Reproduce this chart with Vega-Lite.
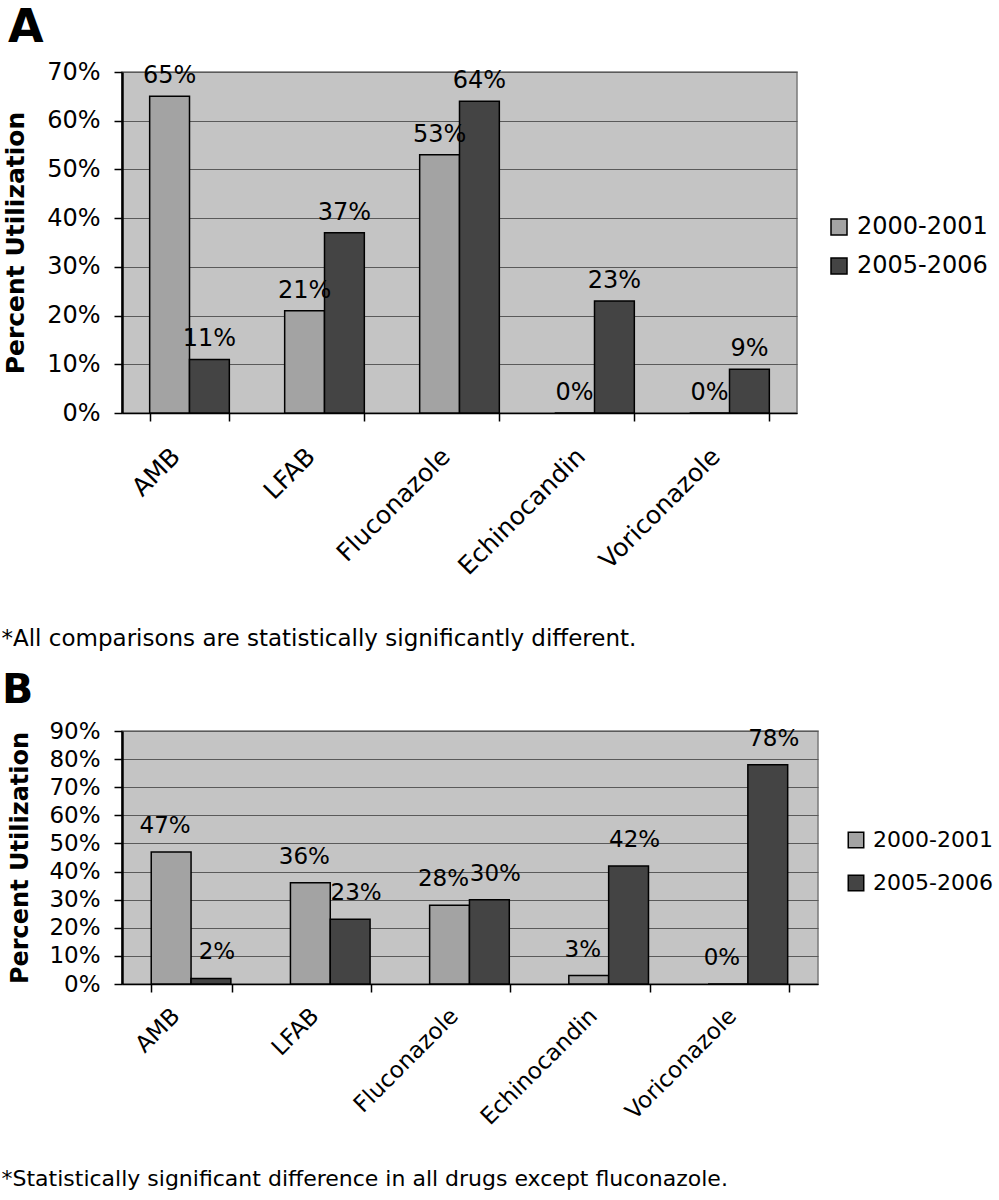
{
  "$schema": "https://vega.github.io/schema/vega-lite/v6.json",
  "background": "white",
  "padding": {"top": 4, "left": 0, "right": 0, "bottom": 0},
  "spacing": 18,
  "align": "none",
  "resolve": {"scale": {"color": "independent"}, "legend": {"color": "independent"}},
  "config": {
    "font": "DejaVu Sans",
    "view": {"fill": "#c4c4c4", "stroke": "#7a7a7a", "strokeWidth": 1.5}
  },
  "vconcat": [
    {
      "title": {"text": "A", "anchor": "start", "fontSize": 46, "fontWeight": "bold", "color": "black", "dx": 7, "offset": 8},
      "width": 675,
      "height": 341,
      "data": {"values": [
        {"drug": "AMB", "period": "2000-2001", "value": 0.65},
        {"drug": "AMB", "period": "2005-2006", "value": 0.11},
        {"drug": "LFAB", "period": "2000-2001", "value": 0.21},
        {"drug": "LFAB", "period": "2005-2006", "value": 0.37},
        {"drug": "Fluconazole", "period": "2000-2001", "value": 0.53},
        {"drug": "Fluconazole", "period": "2005-2006", "value": 0.64},
        {"drug": "Echinocandin", "period": "2000-2001", "value": 0.0},
        {"drug": "Echinocandin", "period": "2005-2006", "value": 0.23},
        {"drug": "Voriconazole", "period": "2000-2001", "value": 0.0},
        {"drug": "Voriconazole", "period": "2005-2006", "value": 0.09}
      ]},
      "encoding": {
        "x": {
          "field": "drug", "type": "nominal", "sort": null,
          "scale": {"paddingInner": 0.41, "paddingOuter": 0.205},
          "axis": {
            "tickBand": "extent", "tickSize": 8, "tickColor": "black", "tickWidth": 1.5,
            "domainColor": "black", "domainWidth": 1.5,
            "labelAngle": -45, "labelAlign": "right", "labelBaseline": "middle",
            "labelFontSize": 25, "labelColor": "black", "labelPadding": 31, "labelOffset": -14,
            "title": "*All comparisons are statistically significantly different.",
            "titleFontSize": 23, "titleFontWeight": "normal", "titleColor": "black",
            "titleAnchor": "start", "titleAlign": "left", "titleBaseline": "alphabetic",
            "titleX": -121, "titleY": 232
          }
        },
        "xOffset": {"field": "period", "type": "nominal"},
        "y": {
          "field": "value", "type": "quantitative",
          "scale": {"domain": [0, 0.7], "nice": false},
          "axis": {
            "values": [0, 0.1, 0.2, 0.3, 0.4, 0.5, 0.6, 0.7],
            "format": ".0%", "grid": true, "gridColor": "#5a5a5a", "gridWidth": 1,
            "tickSize": 8, "tickColor": "black", "tickWidth": 1.5,
            "domainColor": "black", "domainWidth": 2.5,
            "labelFontSize": 24, "labelColor": "black", "labelPadding": 14,
            "title": "Percent Utilization", "titleFontSize": 25, "titleFontWeight": "bold",
            "titleColor": "black", "titlePadding": 18
          }
        }
      },
      "layer": [
        {
          "mark": {"type": "bar", "stroke": "black", "strokeWidth": 1.5},
          "encoding": {
            "color": {
              "field": "period", "type": "nominal",
              "scale": {"domain": ["2000-2001", "2005-2006"], "range": ["#a3a3a3", "#444444"]},
              "legend": {
                "title": null, "orient": "none", "legendX": 705, "legendY": 143,
                "symbolType": "square", "symbolSize": 256, "symbolStrokeColor": "black",
                "symbolStrokeWidth": 1.5, "labelFontSize": 24, "labelColor": "black",
                "labelOffset": 6, "rowPadding": 15
              }
            }
          }
        },
        {
          "mark": {"type": "text", "baseline": "alphabetic", "dy": -13, "fontSize": 24, "color": "black"},
          "encoding": {"text": {"field": "value", "type": "quantitative", "format": ".0%"}}
        }
      ]
    },
    {
      "title": {"text": "B", "anchor": "start", "fontSize": 41, "fontWeight": "bold", "color": "black", "dx": 1, "offset": 8},
      "width": 696,
      "height": 253,
      "data": {"values": [
        {"drug": "AMB", "period": "2000-2001", "value": 0.47},
        {"drug": "AMB", "period": "2005-2006", "value": 0.02},
        {"drug": "LFAB", "period": "2000-2001", "value": 0.36},
        {"drug": "LFAB", "period": "2005-2006", "value": 0.23},
        {"drug": "Fluconazole", "period": "2000-2001", "value": 0.28},
        {"drug": "Fluconazole", "period": "2005-2006", "value": 0.30},
        {"drug": "Echinocandin", "period": "2000-2001", "value": 0.03},
        {"drug": "Echinocandin", "period": "2005-2006", "value": 0.42},
        {"drug": "Voriconazole", "period": "2000-2001", "value": 0.0},
        {"drug": "Voriconazole", "period": "2005-2006", "value": 0.78}
      ]},
      "encoding": {
        "x": {
          "field": "drug", "type": "nominal", "sort": null,
          "scale": {"paddingInner": 0.42, "paddingOuter": 0.21},
          "axis": {
            "tickBand": "extent", "tickSize": 8, "tickColor": "black", "tickWidth": 1.5,
            "domainColor": "black", "domainWidth": 1.5,
            "labelAngle": -45, "labelAlign": "right", "labelBaseline": "middle",
            "labelFontSize": 23, "labelColor": "black", "labelPadding": 20, "labelOffset": -16,
            "title": "*Statistically significant difference in all drugs except fluconazole.",
            "titleFontSize": 22, "titleFontWeight": "normal", "titleColor": "black",
            "titleAnchor": "start", "titleAlign": "left", "titleBaseline": "alphabetic",
            "titleX": -121, "titleY": 201
          }
        },
        "xOffset": {"field": "period", "type": "nominal"},
        "y": {
          "field": "value", "type": "quantitative",
          "scale": {"domain": [0, 0.9], "nice": false},
          "axis": {
            "values": [0, 0.1, 0.2, 0.3, 0.4, 0.5, 0.6, 0.7, 0.8, 0.9],
            "format": ".0%", "grid": true, "gridColor": "#5a5a5a", "gridWidth": 1,
            "tickSize": 8, "tickColor": "black", "tickWidth": 1.5,
            "domainColor": "black", "domainWidth": 2.5,
            "labelFontSize": 23, "labelColor": "black", "labelPadding": 14,
            "title": "Percent Utilization", "titleFontSize": 24, "titleFontWeight": "bold",
            "titleColor": "black", "titlePadding": 16
          }
        }
      },
      "layer": [
        {
          "mark": {"type": "bar", "stroke": "black", "strokeWidth": 1.5},
          "encoding": {
            "color": {
              "field": "period", "type": "nominal",
              "scale": {"domain": ["2000-2001", "2005-2006"], "range": ["#a3a3a3", "#444444"]},
              "legend": {
                "title": null, "orient": "none", "legendX": 723, "legendY": 98,
                "symbolType": "square", "symbolSize": 240, "symbolStrokeColor": "black",
                "symbolStrokeWidth": 1.5, "labelFontSize": 22, "labelColor": "black",
                "labelOffset": 6, "rowPadding": 21
              }
            }
          }
        },
        {
          "transform": [{"filter": "datum.period === '2000-2001'"}],
          "mark": {"type": "text", "baseline": "alphabetic", "dy": -19, "dx": -6, "fontSize": 23, "color": "black"},
          "encoding": {"text": {"field": "value", "type": "quantitative", "format": ".0%"}}
        },
        {
          "transform": [{"filter": "datum.period === '2005-2006'"}],
          "mark": {"type": "text", "baseline": "alphabetic", "dy": -19, "dx": 6, "fontSize": 23, "color": "black"},
          "encoding": {"text": {"field": "value", "type": "quantitative", "format": ".0%"}}
        }
      ]
    }
  ]
}
